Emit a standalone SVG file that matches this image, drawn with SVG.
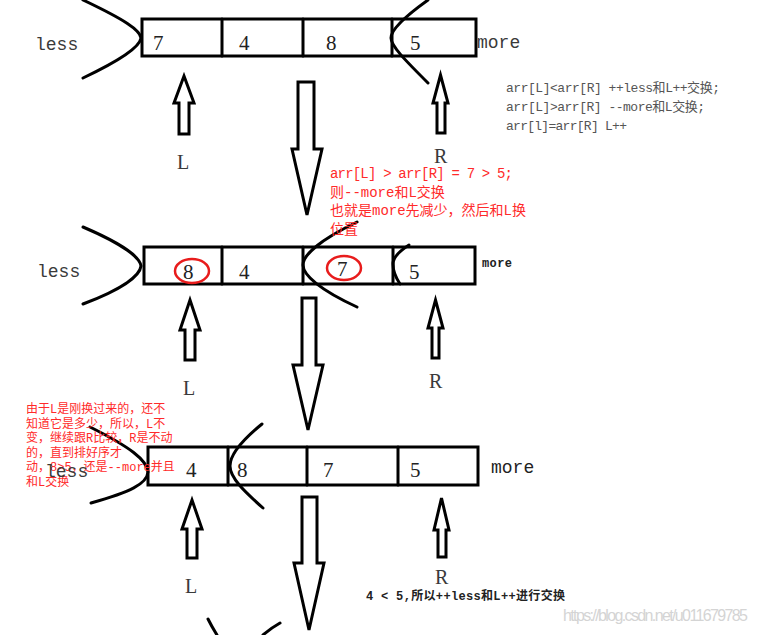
<svg xmlns="http://www.w3.org/2000/svg" width="757" height="635" viewBox="0 0 757 635">
<style>
.box{fill:none;stroke:#000;stroke-width:3}
.ln{fill:none;stroke:#000;stroke-width:3;stroke-linecap:round}
.arr{fill:#fff;stroke:#000;stroke-width:3;stroke-linejoin:miter}
.dig{font-family:"Liberation Serif","Noto Sans CJK SC",serif;font-size:21px;fill:#222}
.lbl{font-family:"Liberation Serif","Noto Sans CJK SC",serif;font-size:20px;fill:#3a3a3a}
.less{font-family:"Liberation Mono",monospace;font-size:18px;fill:#3a3a3a}
.gray{font-family:"Liberation Mono","Noto Sans CJK SC",monospace;font-size:13px;fill:#555}
.red{font-family:"Liberation Mono","Noto Sans CJK SC",monospace;font-size:14px;fill:#ff2a2a}
.red2{font-family:"Liberation Mono","Noto Sans CJK SC",monospace;font-size:12px;fill:#ff2a2a}
.circ{fill:none;stroke:#e81c1c;stroke-width:2.5}
</style>

<g id="row1">
  <rect class="box" x="142" y="19" width="334" height="37"/>
  <line class="ln" x1="222" y1="19" x2="222" y2="56"/>
  <line class="ln" x1="303" y1="19" x2="303" y2="56"/>
  <line class="ln" x1="392" y1="19" x2="392" y2="56"/>
  <path class="ln" d="M83,0 C125,20 140,30 141,38 C140,46 125,58 83,78"/>
  <path class="ln" d="M428,0 C400,20 391,32 391,38 C391,46 405,60 428,83"/>
  <text class="less" x="35" y="50">less</text>
  <text class="dig" x="153" y="50">7</text>
  <text class="dig" x="239" y="50">4</text>
  <text class="dig" x="326" y="50">8</text>
  <text class="dig" x="410" y="50">5</text>
  <text class="less" x="477" y="48">more</text>
</g>

<g id="pointers1">
  <polygon class="arr" points="184,76 194,103 189,103 189,134 179,134 179,103 174,103"/>
  <polygon class="arr" points="440.5,75 448,103 445,103 445,133 437,133 437,103 433,103"/>
  <text class="lbl" x="177" y="169">L</text>
  <text class="lbl" x="434" y="163">R</text>
</g>

<g id="rules">
  <text class="gray" x="506" y="92" textLength="214">arr[L]&lt;arr[R] ++less和L++交换;</text>
  <text class="gray" x="506" y="111" textLength="199">arr[L]&gt;arr[R] --more和L交换;</text>
  <text class="gray" x="506" y="130" textLength="121">arr[l]=arr[R] L++</text>
</g>

<g id="row2">
  <rect class="box" x="144" y="247" width="331" height="37"/>
  <line class="ln" x1="222" y1="247" x2="222" y2="284"/>
  <line class="ln" x1="303" y1="247" x2="303" y2="284"/>
  <line class="ln" x1="393" y1="247" x2="393" y2="284"/>
  <path class="ln" d="M83,227 C125,245 140,258 141,266 C140,275 125,288 83,304"/>
  <path class="ln" d="M357,222 C320,240 303,255 303,265 C303,275 320,290 357,307"/>
  <path class="ln" d="M409,245 C398,252 393,258 393,264 C393,272 396,278 400,284"/>
  <text class="less" x="37" y="277">less</text>
  <text class="dig" x="183" y="279">8</text>
  <text class="dig" x="239" y="279">4</text>
  <text class="dig" x="337" y="276">7</text>
  <text class="dig" x="409" y="279">5</text>
  <text x="482" y="267" textLength="30" style="font-family:'Liberation Mono',monospace;font-size:12px;font-weight:bold;fill:#222">more</text>
  <ellipse class="circ" cx="192" cy="271" rx="17" ry="12"/>
  <ellipse class="circ" cx="344" cy="268" rx="17" ry="12"/>
</g>

<g id="note1">
  <text class="red" x="330" y="178" textLength="183">arr[L] &gt; arr[R] = 7 &gt; 5;</text>
  <text class="red" x="330" y="197">则--more和L交换</text>
  <text class="red" x="330" y="215">也就是more先减少，然后和L换</text>
  <text class="red" x="330" y="234">位置</text>
</g>

<g id="pointers2">
  <polygon class="arr" points="190,300 200,330 195,330 195,360 185,360 185,330 180,330"/>
  <polygon class="arr" points="435.5,300 443,328 439,328 439,358 432,358 432,328 428,328"/>
  <text class="lbl" x="183" y="395">L</text>
  <text class="lbl" x="429" y="388">R</text>
</g>

<g id="row3">
  <rect class="box" x="148" y="447" width="330" height="38"/>
  <line class="ln" x1="228" y1="447" x2="228" y2="485"/>
  <line class="ln" x1="307" y1="447" x2="307" y2="485"/>
  <line class="ln" x1="398" y1="447" x2="398" y2="485"/>
  <path class="ln" d="M90,427 C130,447 147,460 148,472 C147,484 130,492 91,503"/>
  <path class="ln" d="M262,424 C240,442 230,456 230,466 C230,478 245,492 263,508"/>
  <path class="ln" d="M208,619 Q212,627 217,635"/>
  <path class="ln" d="M263,635 Q271,628 280,623"/>
  <text class="dig" x="186" y="477">4</text>
  <text class="dig" x="237" y="477">8</text>
  <text class="dig" x="323" y="477">7</text>
  <text class="dig" x="410" y="477">5</text>
  <text x="491" y="473" style="font-family:'Liberation Mono',monospace;font-size:18px;fill:#222">more</text>
</g>

<g id="note2">
  <text class="red2" x="26" y="413">由于L是刚换过来的，还不</text>
  <text class="red2" x="26" y="428">知道它是多少，所以，L不</text>
  <text class="red2" x="26" y="442">变，继续跟R比较，R是不动</text>
  <text class="red2" x="26" y="457">的，直到排好序才</text>
  <text class="red2" x="26" y="471">动，8&gt;5，还是--more并且</text>
  <text class="red2" x="26" y="486">和L交换</text>
</g>
<g id="less3">
  <text class="less" x="45" y="477">less</text>
</g>

<g id="pointers3">
  <polygon class="arr" points="192,500 202,529 197,529 197,558 187,558 187,529 182,529"/>
  <polygon class="arr" points="441.5,498 449,530 446,530 446,557 438,557 438,530 434,530"/>
  <text class="lbl" x="185" y="593">L</text>
  <text class="lbl" x="435" y="584">R</text>
</g>

<g id="note3">
  <text x="366" y="600" textLength="199" style="font-family:'Liberation Mono','Noto Sans CJK SC',monospace;font-size:12px;font-weight:bold;fill:#222">4 &lt; 5,所以++less和L++进行交换</text>
</g>

<g id="connectors">
  <polygon class="arr" points="298,82 314,82 314,149 322,149 307,215 292,149 298,149"/>
  <polygon class="arr" points="302,298 316,298 316,365 323,365 308,430 293,365 302,365"/>
  <polygon class="arr" points="302,497 317,497 317,563 324,563 309,630 294,563 302,563"/>
</g>

<g id="watermark">
  <text x="563" y="621" textLength="185" style="font-family:'Liberation Sans',sans-serif;font-size:16px;fill:#d4d4d4">https://blog.csdn.net/u011679785</text>
</g>
</svg>
